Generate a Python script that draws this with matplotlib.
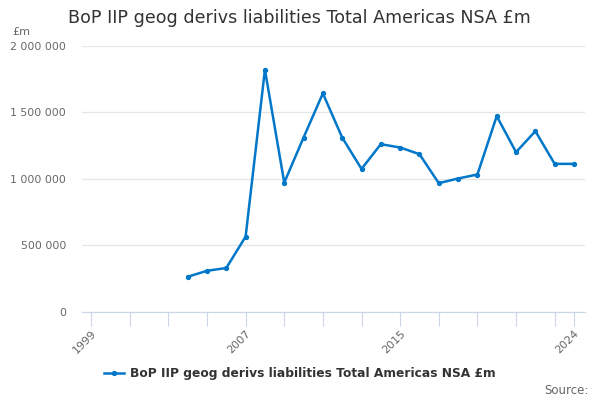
import matplotlib
matplotlib.use("Agg")
import matplotlib.pyplot as plt
from matplotlib.ticker import FuncFormatter

# --- data ---
years = [2004, 2005, 2006, 2007, 2008, 2009, 2010, 2011, 2012, 2013, 2014,
         2015, 2016, 2017, 2018, 2019, 2020, 2021, 2022, 2023, 2024]
values = [261000, 306000, 327000, 563000, 1818000, 969000, 1308000, 1640000,
          1308000, 1072000, 1258000, 1233000, 1183000, 965000, 1000000,
          1030000, 1469000, 1198000, 1356000, 1110000, 1110000]
tick_years = [1999, 2001, 2003, 2005, 2007, 2009, 2011, 2013, 2015, 2017,
              2019, 2021, 2023, 2024]
label_years = [1999, 2007, 2015, 2024]
y_ticks = [0, 500000, 1000000, 1500000, 2000000]

title = "BoP IIP geog derivs liabilities Total Americas NSA £m"
line_col = "#0077c8"

fig = plt.figure(figsize=(6, 4), dpi=100)
ax = fig.add_axes([82/600, 1 - 311.5/400, (585-82)/600, (311.5-45.5)/400])

ax.plot(years, values, color=line_col, lw=1.8, marker="o", ms=2.8,
        label=title)

ax.set_xlim(1998.53, 2024.57)
ax.set_ylim(0, 2000000)

# y axis
ax.set_yticks(y_ticks)
ax.yaxis.set_major_formatter(FuncFormatter(lambda v, p: f"{int(v):,}".replace(",", " ")))
ax.grid(axis="y", color="#e6e6e6", lw=0.9)
ax.tick_params(axis="y", length=0, labelsize=7.8, labelcolor="#666666", pad=11.5)

# x axis
ax.set_xticks(tick_years)
ax.set_xticklabels([str(y) if y in label_years else "" for y in tick_years],
                   rotation=45, ha="right", rotation_mode="anchor")
ax.tick_params(axis="x", length=10, width=0.8, color="#ccd6eb",
               labelsize=8, labelcolor="#666666", pad=2)

for s in ["top", "right", "left"]:
    ax.spines[s].set_visible(False)
ax.spines["bottom"].set_color("#ccd6eb")
ax.set_axisbelow(True)

fig.text(299/600, 1 - 18/400, title, ha="center", va="center",
         fontsize=12.6, color="#333333")
fig.text(12/600, 1 - 32/400, "£m", ha="left", va="center",
         fontsize=8, color="#666666")

leg = fig.legend(loc="center", bbox_to_anchor=(300/600, 1 - 374/400),
                 frameon=False, handlelength=1.6, handletextpad=0.5,
                 prop={"size": 8.8, "weight": "bold"})
for t in leg.get_texts():
    t.set_color("#333333")

fig.text(589/600, 1 - 390/400, "Source:", ha="right", va="center",
         fontsize=8.5, color="#666666")

fig.savefig("out.png", dpi=100)
